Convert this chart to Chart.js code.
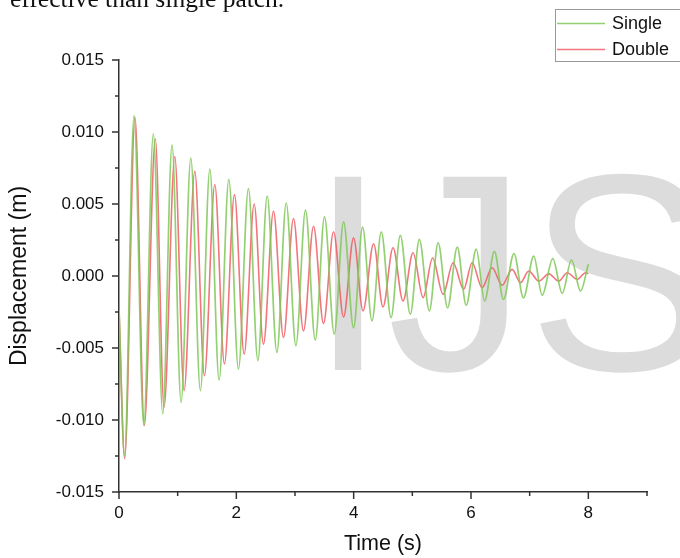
<!DOCTYPE html>
<html>
<head>
<meta charset="utf-8">
<script src="https://cdn.jsdelivr.net/npm/chart.js@4"></script>
<style>
  html, body { margin: 0; padding: 0; background: #fff; overflow: hidden; }
  #wrap { position: relative; width: 680px; height: 558px; }
  #caption {
    position: absolute; left: 10px; top: -14px;
    font: 25.5px "Liberation Serif", serif; line-height: 25px; color: #111; white-space: nowrap;
  }
  canvas { position: absolute; left: 0; top: 0; }
</style>
</head>
<body>
<div id="wrap">
  <canvas id="chart" width="680" height="558"></canvas>
  <div id="caption">effective than single patch.</div>
</div>
<script>
// extrema (time in s, displacement in m)
const singleTime = [0, 0.094, 0.256, 0.422, 0.585, 0.746, 0.904, 1.058, 1.224, 1.387, 1.548, 1.706, 1.872, 2.036,
  2.206, 2.367, 2.526, 2.691, 2.850, 3.015, 3.179, 3.345, 3.503, 3.669, 3.828, 3.998, 4.152, 4.312, 4.471, 4.637,
  4.795, 4.966, 5.119, 5.290, 5.440, 5.601, 5.766, 5.918, 6.089, 6.232, 6.399, 6.553, 6.732, 6.894, 7.070, 7.213,
  7.394, 7.555, 7.713, 7.867, 8.0];
const singleDisp = [-0.0023, -0.0125, 0.01114, -0.01038, 0.00988, -0.00957, 0.00911, -0.00877, 0.00819, -0.00796,
  0.00743, -0.00722, 0.00671, -0.00646, 0.00607, -0.00588, 0.00554, -0.00531, 0.00507, -0.00484, 0.00457, -0.00445,
  0.00410, -0.00403, 0.00376, -0.00360, 0.00339, -0.00311, 0.00306, -0.00289, 0.00282, -0.00265, 0.00254, -0.00242,
  0.00230, -0.00221, 0.00201, -0.00203, 0.00187, -0.00173, 0.00171, -0.00163, 0.00156, -0.00152, 0.00138, -0.00134,
  0.00120, -0.00120, 0.00111, -0.00104, 0.00081];

const doubleTime = [0, 0.097, 0.273, 0.432, 0.619, 0.768, 0.951, 1.109, 1.292, 1.456, 1.633, 1.797, 1.968, 2.133,
  2.304, 2.462, 2.633, 2.804, 2.974, 3.145, 3.316, 3.486, 3.657, 3.828, 3.998, 4.159, 4.340, 4.500, 4.671, 4.841,
  5.012, 5.183, 5.345, 5.524, 5.695, 5.875, 6.019, 6.189, 6.360, 6.531, 6.701, 6.843, 6.985, 7.155, 7.326, 7.497,
  7.640, 7.811, 7.952, 8.0];
const doubleDisp = [-0.0023, -0.01268, 0.01102, -0.01038, 0.00953, -0.00911, 0.00830, -0.00796, 0.00727, -0.00692,
  0.00635, -0.00611, 0.00565, -0.00542, 0.00500, -0.00473, 0.00450, -0.00427, 0.00399, -0.00381, 0.00346, -0.00330,
  0.00307, -0.00284, 0.00265, -0.00242, 0.00224, -0.00215, 0.00196, -0.00173, 0.00161, -0.00150, 0.00125, -0.00127,
  0.00092, -0.00092, 0.00092, -0.00081, 0.00057, -0.00064, 0.00046, -0.00046, 0.00035, -0.00035, 0.00015, -0.00035,
  0.00023, -0.00023, 0.00023, 0.00015];

const seriesNames = ["Single", "Double"];
const xMajor = [0, 2, 4, 6, 8];
const xMinor = [1, 3, 5, 7, 9];
const yMajor = [-0.015, -0.010, -0.005, 0, 0.005, 0.010, 0.015];
const yMinor = [-0.0125, -0.0075, -0.0025, 0.0025, 0.0075, 0.0125];

const green = "rgba(128,200,88,0.85)";
const red = "rgba(238,82,90,0.8)";
const axisColor = "#333";
const fontFamily = '"Liberation Sans", Arial, sans-serif';

const toPoints = (xs, ys) => xs.map((x, i) => ({ x: x, y: ys[i] }));

// big grey watermark behind the curves
const watermark = {
  id: "watermark",
  beforeDatasetsDraw(chart) {
    const ctx = chart.ctx;
    ctx.save();
    ctx.fillStyle = "#dcdcdc";
    ctx.font = "281px " + fontFamily;
    ctx.textBaseline = "alphabetic";
    ctx.fillText("IJS", 309, 370);
    ctx.restore();
  },
};

// major / minor tick marks and the boxed legend in the corner
const extras = {
  id: "extras",
  afterDraw(chart) {
    const ctx = chart.ctx;
    const xs = chart.scales.x, ys = chart.scales.y;
    const area = chart.chartArea;
    ctx.save();
    ctx.strokeStyle = axisColor;
    ctx.lineWidth = 1.5;
    ctx.beginPath();
    xMajor.forEach((v) => { const p = xs.getPixelForValue(v); ctx.moveTo(p, area.bottom); ctx.lineTo(p, area.bottom + 7); });
    xMinor.forEach((v) => { const p = xs.getPixelForValue(v); ctx.moveTo(p, area.bottom); ctx.lineTo(p, area.bottom + 4); });
    yMajor.forEach((v) => { const p = ys.getPixelForValue(v); ctx.moveTo(area.left, p); ctx.lineTo(area.left - 7, p); });
    yMinor.forEach((v) => { const p = ys.getPixelForValue(v); ctx.moveTo(area.left, p); ctx.lineTo(area.left - 4, p); });
    ctx.stroke();

    // legend
    ctx.fillStyle = "#fff";
    ctx.fillRect(555.5, 9.5, 130, 52);
    ctx.strokeStyle = "#999";
    ctx.lineWidth = 1;
    ctx.strokeRect(555.5, 9.5, 130, 52);
    ctx.font = "18px " + fontFamily;
    ctx.textBaseline = "middle";
    const colors = [green, red];
    seriesNames.forEach((name, i) => {
      const y = 23.5 + i * 26;
      ctx.strokeStyle = colors[i];
      ctx.lineWidth = 1.4;
      ctx.beginPath();
      ctx.moveTo(557, y);
      ctx.lineTo(605, y);
      ctx.stroke();
      ctx.fillStyle = "#111";
      ctx.fillText(name, 612, y + 1);
    });
    ctx.restore();
  },
};

new Chart(document.getElementById("chart"), {
  type: "line",
  data: {
    datasets: [
      {
        label: seriesNames[0],
        data: toPoints(singleTime, singleDisp),
        borderColor: green,
        borderWidth: 1.7,
        pointRadius: 0,
        cubicInterpolationMode: "monotone",
        fill: false,
      },
      {
        label: seriesNames[1],
        data: toPoints(doubleTime, doubleDisp),
        borderColor: red,
        borderWidth: 1.6,
        pointRadius: 0,
        cubicInterpolationMode: "monotone",
        fill: false,
      },
    ],
  },
  options: {
    responsive: false,
    animation: false,
    layout: { padding: { top: 60, right: 33, left: 0, bottom: 0 } },
    plugins: { legend: { display: false }, tooltip: { enabled: false } },
    scales: {
      x: {
        type: "linear",
        min: 0,
        max: 9,
        grid: { display: false, drawTicks: true, tickLength: 7 },
        border: { display: true, color: axisColor, width: 1.5 },
        ticks: {
          stepSize: 1,
          padding: 4,
          color: "#111",
          font: { family: fontFamily, size: 17 },
          maxRotation: 0,
          autoSkip: false,
          callback: (v) => (xMajor.includes(v) ? String(v) : ""),
        },
        title: {
          display: true,
          text: "Time (s)",
          color: "#111",
          font: { family: fontFamily, size: 21.5 },
          padding: { top: 0, bottom: 1 },
        },
        afterFit: (s) => { s.height = 66; },
      },
      y: {
        min: -0.015,
        max: 0.015,
        grid: { display: false, drawTicks: true, tickLength: 7 },
        border: { display: true, color: axisColor, width: 1.5 },
        ticks: {
          stepSize: 0.005,
          padding: 8,
          color: "#111",
          font: { family: fontFamily, size: 17 },
          callback: (v) => v.toFixed(3),
        },
        title: {
          display: true,
          text: "Displacement (m)",
          color: "#111",
          font: { family: fontFamily, size: 23 },
          padding: { top: 6, bottom: 0 },
        },
        afterFit: (s) => { s.width = 119; },
      },
    },
  },
  plugins: [watermark, extras],
});
</script>
</body>
</html>
